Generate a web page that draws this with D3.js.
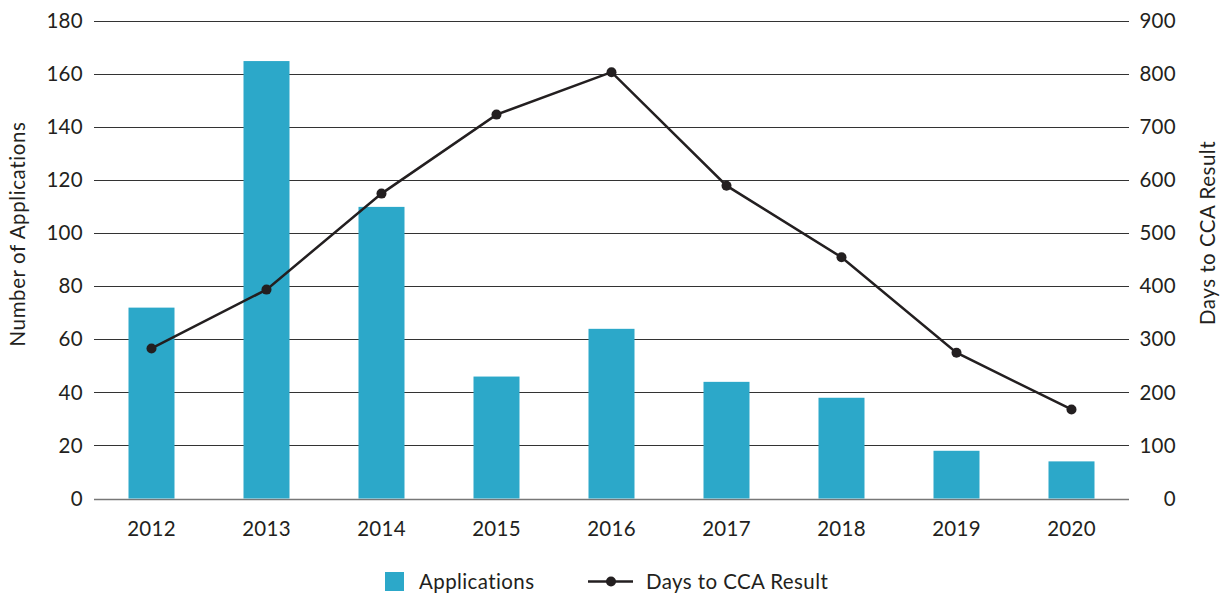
<!DOCTYPE html>
<html>
<head>
  <meta charset="UTF-8">
  <title>Applications and Days to CCA Result</title>
  <style>
    body { margin: 0; background: #fff; }
    text { font-family: Lato, "Open Sans", sans-serif; fill: #231f20; }
  </style>
</head>
<body>
  <svg width="1225" height="596"></svg>
  <script src="https://d3js.org/d3.v7.min.js"></script>
  <script>
    // chart data
    const years = ['2012', '2013', '2014', '2015', '2016', '2017', '2018', '2019', '2020'];
    const applications = [72, 165, 110, 46, 64, 44, 38, 18, 14];
    const daysToResult = [283, 394, 575, 724, 804, 590, 455, 275, 168];
    const leftTicks = [0, 20, 40, 60, 80, 100, 120, 140, 160, 180];
    const rightTicks = [0, 100, 200, 300, 400, 500, 600, 700, 800, 900];

    const barColor = '#2ca8c9';
    const lineColor = '#231f20';
    const fontSize = '20.5px';

    const svg = d3.select('svg');
    const plotLeft = 94, plotRight = 1129, plotTop = 21.3, plotBottom = 498.5;

    const x = d3.scaleBand().domain(years).range([plotLeft, plotRight]).paddingInner(0.6).paddingOuter(0.3);
    const yLeft = d3.scaleLinear().domain([0, 180]).range([plotBottom, plotTop]);
    const yRight = d3.scaleLinear().domain([0, 900]).range([plotBottom, plotTop]);

    // grid lines
    svg.append('g')
      .selectAll('line')
      .data(leftTicks)
      .join('line')
      .attr('x1', plotLeft)
      .attr('x2', plotRight)
      .attr('y1', d => Math.round(yLeft(d)) + 0.5)
      .attr('y2', d => Math.round(yLeft(d)) + 0.5)
      .attr('stroke', d => d === 0 ? '#777' : '#333')
      .attr('stroke-width', d => d === 0 ? 1.5 : 1);

    // left axis
    const gl = svg.append('g')
      .attr('transform', `translate(${plotLeft}, 0)`)
      .call(d3.axisLeft(yLeft).tickValues(leftTicks).tickSize(0).tickPadding(11));
    gl.select('.domain').remove();
    gl.selectAll('text').attr('font-size', fontSize).attr('font-family', 'Lato, sans-serif')
      .attr('fill', '#231f20').attr('letter-spacing', '0.3px');

    // right axis
    const gr = svg.append('g')
      .attr('transform', `translate(${plotRight}, 0)`)
      .call(d3.axisRight(yRight).tickValues(rightTicks).tickSize(0).tickPadding(47));
    gr.select('.domain').remove();
    gr.selectAll('text').attr('font-size', fontSize).attr('font-family', 'Lato, sans-serif')
      .attr('fill', '#231f20').attr('text-anchor', 'end').attr('letter-spacing', '0.3px');

    // x axis
    const gx = svg.append('g')
      .attr('transform', `translate(0, ${plotBottom})`)
      .call(d3.axisBottom(x).tickSize(0).tickPadding(23));
    gx.select('.domain').remove();
    gx.selectAll('text').attr('font-size', fontSize).attr('font-family', 'Lato, sans-serif')
      .attr('fill', '#231f20').attr('letter-spacing', '0.3px');

    // bars
    svg.append('g')
      .selectAll('rect')
      .data(applications)
      .join('rect')
      .attr('x', (d, i) => x(years[i]))
      .attr('width', x.bandwidth())
      .attr('y', d => yLeft(d))
      .attr('height', d => plotBottom - yLeft(d))
      .attr('fill', barColor);

    // line
    const line = d3.line()
      .x((d, i) => x(years[i]) + x.bandwidth() / 2)
      .y(d => yRight(d));

    svg.append('path')
      .datum(daysToResult)
      .attr('d', line)
      .attr('fill', 'none')
      .attr('stroke', lineColor)
      .attr('stroke-width', 2.5);

    svg.append('g')
      .selectAll('circle')
      .data(daysToResult)
      .join('circle')
      .attr('cx', (d, i) => x(years[i]) + x.bandwidth() / 2)
      .attr('cy', d => yRight(d))
      .attr('r', 5)
      .attr('fill', lineColor);

    // axis titles
    svg.append('text')
      .attr('transform', 'translate(25, 234) rotate(-90)')
      .attr('text-anchor', 'middle')
      .attr('font-size', fontSize)
      .attr('letter-spacing', '0.6px')
      .text('Number of Applications');

    svg.append('text')
      .attr('transform', 'translate(1215, 233) rotate(-90)')
      .attr('text-anchor', 'middle')
      .attr('font-size', fontSize)
      .attr('letter-spacing', '0.5px')
      .text('Days to CCA Result');

    // legend
    const legend = svg.append('g');
    legend.append('rect')
      .attr('x', 385).attr('y', 572).attr('width', 19).attr('height', 19)
      .attr('fill', barColor);
    legend.append('text')
      .attr('x', 419).attr('y', 589)
      .attr('font-size', fontSize)
      .attr('letter-spacing', '0.4px')
      .text('Applications');
    legend.append('line')
      .attr('x1', 588).attr('x2', 633).attr('y1', 581.5).attr('y2', 581.5)
      .attr('stroke', lineColor).attr('stroke-width', 2.5);
    legend.append('circle')
      .attr('cx', 611).attr('cy', 581.5).attr('r', 5)
      .attr('fill', lineColor);
    legend.append('text')
      .attr('x', 646).attr('y', 589)
      .attr('font-size', fontSize)
      .attr('letter-spacing', '0.4px')
      .text('Days to CCA Result');
  </script>
</body>
</html>
